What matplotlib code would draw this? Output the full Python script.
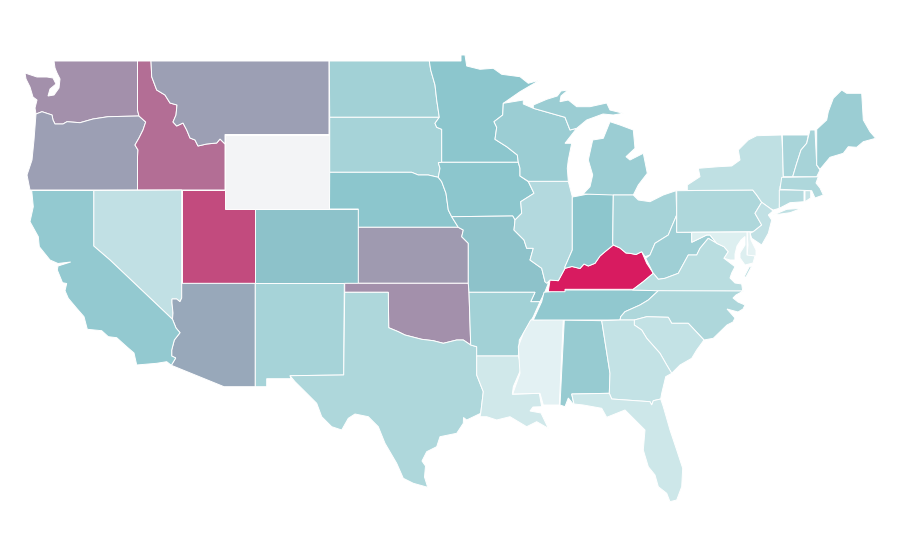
#!/usr/bin/env python3
import matplotlib
matplotlib.use("Agg")
import matplotlib.pyplot as plt
from matplotlib.colors import LinearSegmentedColormap, Normalize
from matplotlib.patches import Polygon

# index value per state
states = ["WA", "OR", "ID", "MT", "WY", "UT", "NV", "AZ", "CA", "NM", "CO", "ND", "SD", "NE", "KS", "OK", "TX",
          "MN", "IA", "MO", "AR", "LA", "MS", "AL", "TN", "KY", "IL", "IN", "WI", "MI", "OH", "WV", "VA", "NC",
          "SC", "GA", "FL", "PA", "NY", "NJ", "DE", "MD", "CT", "RI", "MA", "VT", "NH", "ME"]
values = [65.6, 61, 75.6, 61, 0, 85.6, 25.3, 58.5, 46.3, 37.4, 51, 39.3, 37.4, 49.5, 62.6, 65.6, 33.7,
          49.5, 49.5, 51, 39.3, 18, 8.7, 44.4, 47, 100, 31.4, 49, 42.6, 42.6, 37.4, 41, 28.6, 33.7,
          24, 24, 19.3, 33.7, 25.8, 25, 8, 12, 31, 23, 33.7, 36.5, 37, 42.6]

outlines = {
    "WA": [[(54, 61), (137.5, 61), (137.5, 110), (139, 116), (108, 116.7), (93, 119), (80, 122.7), (67, 121.7),
            (63, 124), (55, 124), (53, 120), (52, 115), (42, 111.7), (36, 114), (35, 108), (37, 100), (33, 97),
            (30, 87), (26, 79), (25, 73), (37, 77), (47, 77), (53, 78), (56, 84), (50, 89), (48, 96), (54, 95),
            (59, 88), (60, 79), (57, 73), (55, 68)]],
    "OR": [[(36, 114), (42, 111.7), (52, 115), (53, 120), (55, 124), (63, 124), (67, 121.7), (80, 122.7), (93, 119),
            (108, 116.7), (139, 116), (145.7, 122), (143, 130), (139, 138), (135, 145), (138, 150), (137.5, 157),
            (137.5, 190), (30, 190), (27, 175), (32, 160), (34, 140)]],
    "ID": [[(137.5, 61), (151, 61), (151.7, 76.7), (156.7, 90), (165, 95), (170, 103), (177, 105), (176, 115),
            (173, 122), (176.7, 126), (183, 123), (186.7, 130), (190, 138), (195, 140), (198, 146), (206.7, 144),
            (216.7, 143), (220, 139), (225, 144), (225, 190), (137.5, 190), (137.5, 157), (138, 150), (135, 145),
            (139, 138), (143, 130), (145.7, 122), (139, 116), (137.5, 110)]],
    "MT": [[(151, 61), (329, 61), (329, 134.5), (225, 134.5), (225, 144), (220, 139), (216.7, 143), (206.7, 144),
            (198, 146), (195, 140), (190, 138), (186.7, 130), (183, 123), (176.7, 126), (173, 122), (176, 115),
            (177, 105), (170, 103), (165, 95), (156.7, 90), (151.7, 76.7)]],
    "WY": [[(225, 134.5), (329.5, 134.5), (329.5, 209), (225, 209)]],
    "UT": [[(181.7, 190), (225, 190), (225, 209), (255.3, 209), (255.3, 283.3), (181.7, 283.3)]],
    "NV": [[(93.7, 190.5), (181.7, 190), (181.7, 298), (180, 301.7), (176.7, 299), (172, 299), (172, 303), (173, 313),
            (172.5, 319.3), (110, 260), (93.7, 246)]],
    "AZ": [[(181.7, 283.3), (255.3, 283.3), (255.3, 386.7), (224, 386.7), (171.3, 365.3), (175.7, 358), (171.7, 356),
            (171.7, 350), (174.3, 340), (180, 332.7), (176, 328), (172.5, 319.3), (173, 313), (172, 303), (172, 299),
            (176.7, 299), (180, 301.7), (181.7, 298)]],
    "CA": [[(31.7, 190.5), (93.7, 190.5), (93.7, 246), (110, 260), (172.5, 319.3), (176, 328), (180, 332.7),
            (174.3, 340), (171.7, 350), (171.7, 356), (175.7, 358), (171.3, 365.3), (166.7, 361.7), (156.7, 363.3),
            (136.7, 365), (134, 353), (126.7, 346.7), (116.7, 337.7), (108.3, 336.7), (101.7, 330.7), (87.3, 329.3),
            (84, 316.7), (76.7, 308.3), (68.3, 298.3), (65, 290.7), (66.7, 283.5), (62.5, 282.7), (57.3, 270),
            (58, 266), (70.7, 262), (58, 263.5), (50, 260), (39.3, 246.7), (38.3, 236.7), (30, 221.7),
            (33.3, 206.7)]],
    "NM": [[(255.3, 283.3), (344.3, 283.3), (343.7, 375), (290, 375.7), (291, 378.7), (266.7, 378.7), (266.7, 386.7),
            (255.3, 386.7)]],
    "CO": [[(255.3, 209), (358.3, 209), (358.3, 283.3), (255.3, 283.3)]],
    "ND": [[(329.3, 61), (429.3, 61), (430.7, 70), (435, 85), (436.7, 100), (439.3, 117.3), (329.7, 117.3)]],
    "SD": [[(329.7, 117.3), (439.3, 117.3), (435, 123.3), (436.7, 127.3), (441.7, 129.3), (441.7, 162.3),
            (438.3, 162.7), (440, 168.3), (438.3, 177.3), (428.3, 175), (418.3, 175), (411.7, 172.3), (329.7, 172.3)]],
    "NE": [[(329.7, 172.3), (411.7, 172.3), (418.3, 175), (428.3, 175), (438.3, 177.3), (441.7, 181.7), (446, 193.3),
            (448.3, 210), (451.7, 216.7), (458.3, 227.3), (358.3, 227.3), (358.3, 209), (329.5, 209)]],
    "KS": [[(358.3, 227.3), (458.3, 227.3), (463.3, 230), (461.7, 236.7), (468.3, 243.3), (468.3, 283.3),
            (358.3, 283.3)]],
    "OK": [[(344.7, 283.3), (468.3, 283.3), (469, 292.3), (470.7, 345), (463.3, 340), (456.7, 340), (443.3, 343.3),
            (433.3, 340.7), (421.7, 339.3), (405, 335), (398.3, 331.7), (388.7, 327.7), (388.3, 292.3),
            (344.7, 292.3)]],
    "TX": [[(344.7, 292.3), (388.3, 292.3), (388.7, 327.7), (398.3, 331.7), (405, 335), (421.7, 339.3), (433.3, 340.7),
            (443.3, 343.3), (456.7, 340), (463.3, 340), (470.7, 345), (476.7, 346.7), (476.7, 375), (483.3, 391.7),
            (480.7, 413.3), (466.7, 420), (463.5, 417.5), (463.3, 423.3), (456.7, 433.3), (440, 436.7), (436.7, 446.7),
            (426.7, 451.7), (422, 461), (425.5, 466), (424.5, 477), (427.7, 487.3), (413.3, 483.3), (403.3, 478.3),
            (396.7, 463.3), (385, 443.3), (378.3, 426.7), (368.3, 416.7), (355, 414), (348.3, 418.3), (341.7, 430),
            (331.7, 426.7), (321.7, 416.7), (316.7, 403.3), (306.7, 393.3), (295, 381.7), (290, 375.7), (343.7, 375)]],
    "MN": [[(429.3, 61), (461, 61), (461, 55), (465, 55), (466.7, 66), (480, 69.3), (493.3, 68.3), (501.7, 74.3),
            (520, 76.7), (528.3, 83.3), (540, 80), (520, 91.7), (503.3, 103.3), (502.7, 115), (494, 121.7),
            (496.7, 127.3), (495, 139.3), (506.7, 146.7), (517.3, 155), (518.3, 162.3), (441.7, 162.3), (441.7, 129.3),
            (436.7, 127.3), (435, 123.3), (439.3, 117.3), (436.7, 100), (435, 85), (430.7, 70)]],
    "IA": [[(441.7, 162.3), (518.3, 162.3), (520, 168.3), (520, 176), (528.3, 181.7), (534, 193.3), (520.7, 201.7),
            (521.7, 213.3), (515, 220), (512.7, 216), (451.7, 216.7), (448.3, 210), (446, 193.3), (441.7, 181.7),
            (438.3, 177.3), (440, 168.3), (438.3, 162.7)]],
    "MO": [[(451.7, 216.7), (512.7, 216), (515, 220), (514, 230), (524, 240), (526.7, 248.3), (533.3, 248.3), (530, 260),
            (541.7, 268.3), (545, 281.7), (548.3, 283.3), (545, 291.7), (540, 301.7), (530.7, 301.7), (535, 292.3),
            (469, 292.3), (468.3, 283.3), (468.3, 243.3), (461.7, 236.7), (463.3, 230), (458.3, 227.3)]],
    "AR": [[(469, 292.3), (535, 292.3), (530.7, 301.7), (540, 301.7), (533.3, 316.7), (528.3, 325), (519.3, 340),
            (518.3, 356), (476.7, 356), (476.7, 346.7), (470.7, 345)]],
    "LA": [[(476.7, 356), (518.3, 356), (521.7, 367.3), (513.3, 386.7), (512.3, 394.3), (539.3, 393.3), (541.7, 406.7),
            (533, 407), (530, 411), (541, 413), (548.3, 428.3), (536.7, 421.7), (526.7, 426.7), (510, 416.7),
            (496.7, 420), (486.7, 416.7), (480, 416.7), (480.7, 413.3), (483.3, 391.7), (476.7, 375)]],
    "MS": [[(530.7, 320), (563.3, 319.3), (559.3, 405), (543.3, 405), (540, 393.3), (512.7, 394), (520, 373.3),
            (518.3, 346.7), (523.3, 333.3)]],
    "AL": [[(564.3, 320), (601.7, 320.7), (610, 373.3), (609.3, 393.3), (571.7, 394), (574, 405), (568.3, 398),
            (565, 406.7), (560, 405)]],
    "TN": [[(544, 292.3), (565, 290), (600, 290), (633.3, 290), (658.3, 290.7), (648.3, 300), (640, 305), (625, 311.7),
            (620.7, 316.7), (620, 320), (580, 320), (533.3, 320), (541.7, 301.7)]],
    "KY": [[(548.3, 291.7), (550, 280), (558.3, 280.7), (565, 268.3), (572, 266.5), (580, 268.5), (584, 264),
            (588.3, 266), (595, 263.3), (600, 256), (605, 251.7), (613.3, 245), (620, 248), (626, 253), (630, 253.3),
            (636, 254.5), (641.7, 251.7), (646.7, 263.3), (653.3, 273.3), (643.3, 281.7), (633.3, 289.3), (600, 289.3),
            (565, 289.3), (565, 291.7)]],
    "IL": [[(528.3, 181.3), (568.3, 181.3), (572.3, 196.7), (572.3, 250), (565, 266.7), (565, 268.3), (558.3, 280.7),
            (550, 280), (546.7, 283.3), (545, 281.7), (541.7, 268.3), (530, 260), (533.3, 248.3), (526.7, 248.3),
            (524, 240), (514, 230), (515, 220), (521.7, 213.3), (520.7, 201.7), (534, 193.3)]],
    "IN": [[(572.3, 197), (578, 196), (588, 194), (613.3, 194), (612.7, 243.3), (613.3, 245), (605, 251.7), (600, 256),
            (595, 263.3), (588.3, 266), (584, 264), (580, 268.5), (572, 266.5), (565, 268.3), (565, 266.7), (572.3, 250)]],
    "WI": [[(503.3, 103.3), (523.3, 100), (523.3, 104), (533.3, 108.3), (565, 117.3), (570, 130), (576.7, 128.3),
            (565, 143.3), (571.7, 143.3), (568.3, 160), (567.3, 168.3), (568.3, 181.3), (528.3, 181.3), (520, 176),
            (520, 168.3), (518.3, 162.3), (517.3, 155), (506.7, 146.7), (495, 139.3), (496.7, 127.3), (494, 121.7),
            (502.7, 115)]],
    "MI": [[(533.3, 108.3), (533.3, 105), (546.7, 99.3), (557.3, 96), (561, 91), (568, 90), (561, 96), (560, 101.7),
            (568.3, 100), (576.7, 106.7), (590, 106.7), (606.7, 103), (610, 110), (623.3, 113.3), (613.3, 115),
            (603, 114), (586.7, 120), (576.7, 128.3), (570, 130), (565, 117.3)],
           [(583, 194), (590, 186.7), (592.7, 175), (588.3, 160), (592.7, 140), (603.3, 138.3), (610, 121.7), (620, 125),
            (633.3, 130), (635, 148.3), (626, 156.7), (630, 160), (643.3, 153.3), (647.3, 173.3), (638.3, 185),
            (633.3, 195), (613.3, 195)]],
    "OH": [[(613.3, 195), (633.3, 195), (638.3, 200), (650, 201.7), (663.3, 195), (676, 190.7), (676.7, 215),
            (671.7, 226.7), (668.3, 235), (655, 243.3), (650, 255), (645, 256.7), (641.7, 251.7), (636, 254.5),
            (630, 253.3), (626, 253), (620, 248), (613.3, 245), (612.7, 243.3)]],
    "WV": [[(676.7, 215), (676.7, 232.3), (691.7, 232.3), (691.7, 242.3), (706.7, 235), (710, 235), (716.7, 243.3),
            (708.3, 238.3), (700, 248.3), (696.7, 255), (688.3, 255), (678.3, 273.3), (665, 278.3), (658.3, 279.3),
            (653.3, 273.3), (645.7, 258.3), (650, 255), (655, 243.3), (668.3, 235), (671.7, 226.7)]],
    "VA": [[(653.3, 273.3), (658.3, 279.3), (665, 278.3), (678.3, 273.3), (688.3, 255), (696.7, 255), (700, 248.3),
            (708.3, 238.3), (716.7, 243.3), (724, 246.7), (728.3, 251.7), (724, 258.3), (735, 266.7), (731.7, 273),
            (730, 278), (735, 283), (741.7, 284), (742.7, 291), (666.7, 291), (632.3, 290), (643.3, 281.7)],
           [(744, 277), (749.3, 266.7), (751.5, 266.7), (746, 277)]],
    "NC": [[(658.3, 290.7), (743.3, 291), (736, 295), (733, 298), (738, 302), (745, 305), (743, 309), (738, 312),
            (727, 309), (735, 318), (733, 322), (727, 325), (713.3, 338.3), (704, 340), (688.3, 323.3), (671.7, 323.3),
            (668.3, 317.3), (646.7, 316.7), (634.3, 320), (620, 320), (620.7, 316.7), (625, 311.7), (640, 305),
            (648.3, 300)]],
    "SC": [[(634.3, 325), (634.3, 320), (646.7, 316.7), (668.3, 317.3), (671.7, 323.3), (688.3, 323.3), (704, 340),
            (696.7, 350), (691.7, 358.3), (680, 365), (671.7, 373.3), (666.7, 365), (660, 353.3), (646.7, 338.3),
            (641.7, 330)]],
    "GA": [[(601.7, 320.7), (620, 320), (634.3, 320), (634.3, 325), (641.7, 330), (646.7, 338.3), (660, 353.3),
            (666.7, 365), (671.7, 373.3), (665.7, 376.7), (661.7, 393.3), (660.7, 399), (653.3, 400.7), (651.7, 405),
            (650, 401.7), (611.7, 399), (609.3, 393.3), (610, 373.3)]],
    "FL": [[(571.7, 394), (609.3, 393.3), (611.7, 399), (650, 401.7), (651.7, 405), (653.3, 400.7), (660.7, 399),
            (663.3, 406.7), (670, 430), (676.7, 450), (682.7, 468.3), (681.7, 486.7), (676.7, 500), (670, 501.7),
            (666.7, 493.3), (658.3, 486.7), (655, 475), (648.3, 466.7), (643.3, 450), (645, 430), (635, 420), (625, 410),
            (616.7, 413.3), (606.7, 417.3), (601.7, 408.3), (583.3, 405), (574, 404)]],
    "PA": [[(676.7, 190.7), (752.7, 190), (756.7, 195), (761.7, 202.3), (755, 213.3), (761.7, 225), (753.3, 231.7),
            (676.7, 232.3)]],
    "NY": [[(687.3, 190.5), (687.3, 185), (700, 176.7), (698.3, 168.3), (718.3, 166.7), (731.7, 166), (740, 160),
            (738.3, 150), (748.3, 140), (756.7, 135.7), (781.7, 135), (782.7, 153.3), (783.3, 176.7), (780, 186.7),
            (779.3, 208.3), (773.3, 210), (770, 208.3), (761.7, 202.3), (756.7, 195), (752.7, 190)],
           [(773.3, 215), (786.7, 209.3), (801.7, 208.3), (790, 212.7)]],
    "NJ": [[(761.7, 202.3), (770, 208.3), (773, 211), (768.3, 215), (771.7, 220), (768.3, 233.3), (761.7, 245),
            (751.7, 238.3), (750, 233.3), (753.3, 231.7), (761.7, 225), (755, 213.3)]],
    "DE": [[(747, 232), (750, 232), (751, 240), (756, 250), (756, 256), (747, 256), (748, 245)]],
    "MD": [[(691.7, 232.3), (747, 232), (747, 255), (755, 256), (753, 263), (745, 265), (740, 258), (740, 253), (745, 245),
            (745, 236.5), (741, 240), (737, 246), (735, 254), (735, 260), (730, 260), (724, 258.3), (728.3, 251.7),
            (724, 246.7), (716.7, 243.3), (710, 235), (706.7, 235), (691.7, 242.3)]],
    "CT": [[(779.3, 190), (804, 190), (804, 201.7), (790, 202.7), (779.3, 208.3)]],
    "RI": [[(805, 190.7), (810.7, 190.7), (810.7, 198), (805, 201.7)]],
    "MA": [[(781.7, 177.3), (818.3, 176.7), (816, 183), (820, 188), (823.3, 195), (815, 198), (811.7, 190.7), (780, 189.3)]],
    "VT": [[(782.3, 135), (808.3, 135), (806.7, 143.3), (801, 150), (796.7, 163.3), (792.7, 176.7), (783.3, 176.7),
            (782.7, 153.3)]],
    "NH": [[(810, 130), (815, 130), (816.7, 165), (820, 170), (816.7, 176.7), (792.7, 176.7), (796.7, 163.3), (801, 150),
            (806.7, 143.3)]],
    "ME": [[(816.7, 129.3), (826.7, 120), (828.3, 111.7), (833.3, 98.3), (841.7, 90), (846.7, 93.3), (861.7, 93.3),
            (863.3, 120), (870, 131.7), (875.7, 138.3), (863.3, 141.7), (856.7, 147.3), (848.3, 146.7), (843.3, 153.3),
            (830, 157.3), (820, 169.3), (816.7, 165)]],
}

cmap = LinearSegmentedColormap.from_list(
    "index", [(0, "#f3f4f6"), (0.1, "#e1f1f2"), (0.5, "#8bc5cc"), (1, "#d81b60")])
norm = Normalize(0, 100)

fig = plt.figure(figsize=(9, 5.6), dpi=100)
ax = fig.add_axes([0, 0, 1, 1])

for state, value in zip(states, values):
    for outline in outlines[state]:
        ax.add_patch(Polygon(outline, closed=True, facecolor=cmap(norm(value)), edgecolor="white", linewidth=0.7))

ax.set_xlim(0, 900)
ax.set_ylim(560, 0)
ax.axis("off")

fig.savefig("out.png", dpi=100)
